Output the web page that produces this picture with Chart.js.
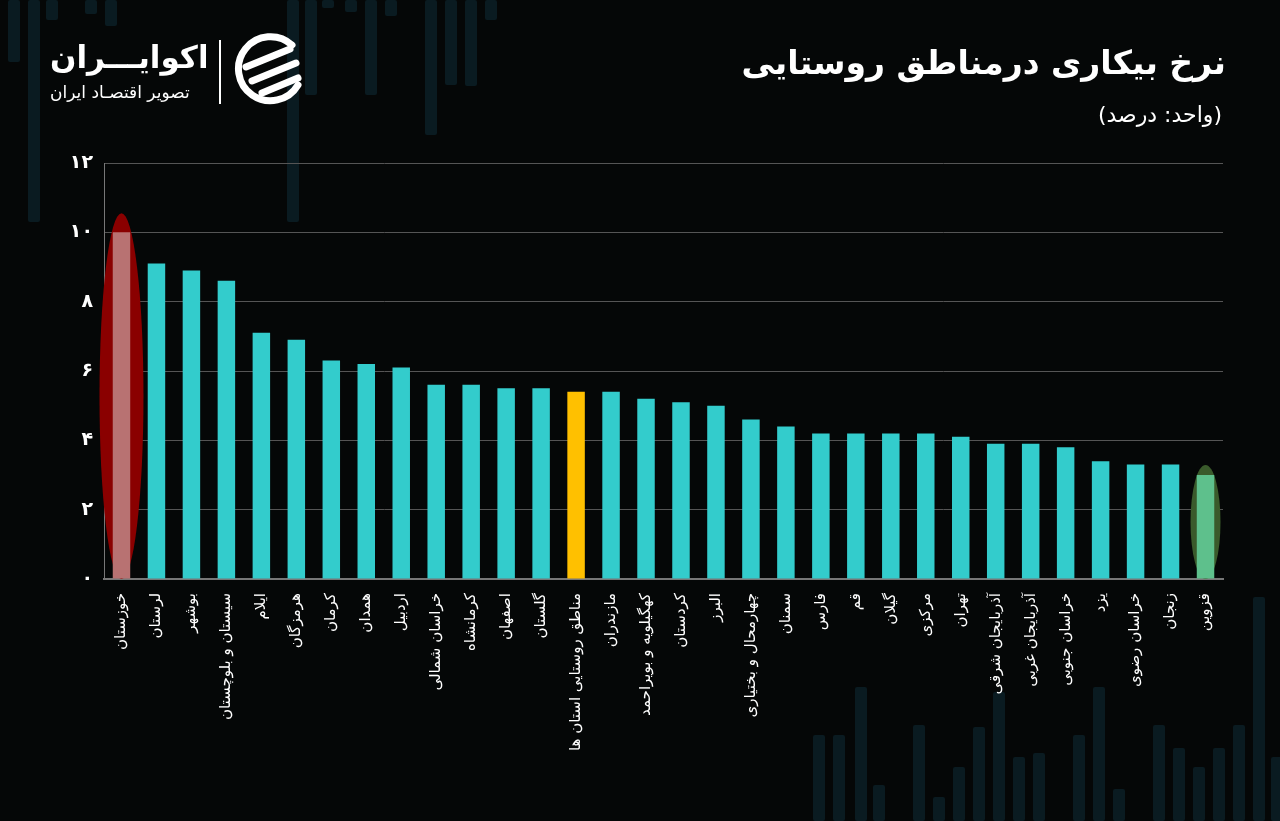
<!DOCTYPE html>
<html>
<head>
<meta charset="utf-8">
<script src="https://cdn.jsdelivr.net/npm/chart.js@4"></script>
<style>
  html, body { margin: 0; padding: 0; background: #050707; }
  #wrap { position: relative; width: 1280px; height: 821px; overflow: hidden; background: #050707; font-family: "DejaVu Sans", sans-serif; }
  .deco { position: absolute; width: 12px; background: #0a1b21; border-radius: 2px; }
  #chart { position: absolute; left: 0; top: 0; }
  .title { position: absolute; right: 54px; top: 43px; color: #fff; font-weight: bold; font-size: 33px; direction: rtl; }
  .unit { position: absolute; right: 58px; top: 102px; color: #fff; font-size: 22px; direction: rtl; }
  .brand { position: absolute; left: 50px; top: 39px; color: #fff; font-weight: bold; font-size: 31px; direction: rtl; }
  .brand-sub { position: absolute; left: 50px; top: 82px; color: #fff; font-size: 17px; letter-spacing: 1px; direction: rtl; }
  .sep { position: absolute; left: 219px; top: 40px; width: 2px; height: 64px; background: #fff; }
  #logo { position: absolute; left: 232px; top: 33px; }
</style>
</head>
<body>
<div id="wrap">
  <canvas id="chart" width="1280" height="821"></canvas>
  <div class="title">نرخ بیکاری درمناطق روستایی</div>
  <div class="unit">(واحد: درصد)</div>
  <div class="brand">اکوایـــران</div>
  <div class="brand-sub">تصویر اقتصـاد ایران</div>
  <div class="sep"></div>
  <svg id="logo" width="74" height="74" viewBox="0 0 74 74">
    <path d="M60 12 A32 32 0 1 0 66 52" fill="none" stroke="#fff" stroke-width="7" stroke-linecap="round"/>
    <path d="M14 34 L58 16" stroke="#fff" stroke-width="7" stroke-linecap="round"/>
    <path d="M20 48 L64 30" stroke="#fff" stroke-width="7" stroke-linecap="round"/>
    <path d="M30 60 L66 45" stroke="#fff" stroke-width="7" stroke-linecap="round"/>
  </svg>
</div>
<script>
// provinces, sorted by rural unemployment rate (percent)
const provinces = [
  "خوزستان", "لرستان", "بوشهر", "سیستان و بلوچستان", "ایلام", "هرمزگان",
  "کرمان", "همدان", "اردبیل", "خراسان شمالی", "کرمانشاه", "اصفهان",
  "گلستان", "مناطق روستایی استان ها", "مازندران", "کهگیلویه و بویراحمد",
  "کردستان", "البرز", "چهارمحال و بختیاری", "سمنان", "فارس", "قم",
  "گیلان", "مرکزی", "تهران", "آذربایجان شرقی", "آذربایجان غربی",
  "خراسان جنوبی", "یزد", "خراسان رضوی", "زنجان", "قزوین"
];
const rates = [
  10.0, 9.1, 8.9, 8.6, 7.1, 6.9,
  6.3, 6.2, 6.1, 5.6, 5.6, 5.5,
  5.5, 5.4, 5.4, 5.2,
  5.1, 5.0, 4.6, 4.4, 4.2, 4.2,
  4.2, 4.2, 4.1, 3.9, 3.9,
  3.8, 3.4, 3.3, 3.3, 3.0
];
const yTicks = [0, 2, 4, 6, 8, 10, 12];
const yTickLabels = ["۰", "۲", "۴", "۶", "۸", "۱۰", "۱۲"];

// background decoration (faint vertical strips)
const decoStrips = [
  [8, 0, 62], [28, 0, 222], [46, 0, 20], [85, 0, 14], [105, 0, 26], [287, 0, 222],
  [305, 0, 95], [322, 0, 8], [345, 0, 12], [365, 0, 95], [385, 0, 16], [425, 0, 135],
  [445, 0, 85], [465, 0, 86], [485, 0, 20],
  [813, 735, 86], [833, 735, 86], [855, 687, 134], [873, 785, 36], [913, 725, 96],
  [933, 797, 24], [953, 767, 54], [973, 727, 94], [993, 692, 129], [1013, 757, 64],
  [1033, 753, 68], [1073, 735, 86], [1093, 687, 134], [1113, 789, 32], [1153, 725, 96],
  [1173, 748, 73], [1193, 767, 54], [1213, 748, 73], [1233, 725, 96], [1253, 597, 224], [1271, 757, 64]
];
const wrap = document.getElementById("wrap");
decoStrips.forEach(([x, y, h]) => {
  const d = document.createElement("div");
  d.className = "deco";
  d.style.left = x + "px";
  d.style.top = y + "px";
  d.style.height = h + "px";
  wrap.insertBefore(d, wrap.firstChild);
});

const barColor = "#33cccc";
const avgColor = "#ffc000";
const avgLabel = "مناطق روستایی استان ها";
const colors = provinces.map((p, i) => {
  if (i === 0) return "#b87272";
  if (i === provinces.length - 1) return "#5ec08c";
  return p === avgLabel ? avgColor : barColor;
});

// highlight ellipses behind first and last bar
const highlights = [
  { index: 0, fill: "#8a0000", rx: 22, extraTop: 19 },
  { index: provinces.length - 1, fill: "#3a5a2b", rx: 15, extraTop: 10 }
];
const ellipsePlugin = {
  id: "ellipses",
  beforeDatasetsDraw(chart) {
    const ctx = chart.ctx;
    const meta = chart.getDatasetMeta(0);
    const base = chart.scales.y.getPixelForValue(0);
    highlights.forEach((h) => {
      const bar = meta.data[h.index];
      const top = bar.y - h.extraTop;
      ctx.save();
      ctx.fillStyle = h.fill;
      ctx.beginPath();
      ctx.ellipse(bar.x, (top + base) / 2, h.rx, (base - top) / 2, 0, 0, Math.PI * 2);
      ctx.fill();
      ctx.restore();
    });
  }
};

new Chart(document.getElementById("chart"), {
  type: "bar",
  data: {
    labels: provinces,
    datasets: [{
      data: rates,
      backgroundColor: colors,
      borderWidth: 0,
      barPercentage: 0.5,
      categoryPercentage: 1.0
    }]
  },
  options: {
    responsive: false,
    animation: false,
    layout: { padding: { left: 40, right: 57, top: 163, bottom: 0 } },
    plugins: { legend: { display: false }, tooltip: { enabled: false } },
    scales: {
      x: {
        grid: { display: false },
        border: { color: "#777", width: 2 },
        ticks: {
          color: "#fff",
          font: { family: "DejaVu Sans", size: 15 },
          minRotation: 90,
          maxRotation: 90,
          autoSkip: false,
          padding: 6
        },
        afterFit(scale) { scale.height = 242; }
      },
      y: {
        min: 0,
        max: 12,
        afterBuildTicks(scale) { scale.ticks = yTicks.map((v) => ({ value: v })); },
        grid: { color: "#555", lineWidth: 1, drawTicks: false },
        border: { color: "#777", width: 1 },
        ticks: {
          color: "#fff",
          font: { family: "DejaVu Sans", size: 19, weight: "bold" },
          padding: 11,
          callback: (v) => yTickLabels[yTicks.indexOf(v)]
        },
        afterFit(scale) { scale.width = 64; }
      }
    }
  },
  plugins: [ellipsePlugin]
});
</script>
</body>
</html>
